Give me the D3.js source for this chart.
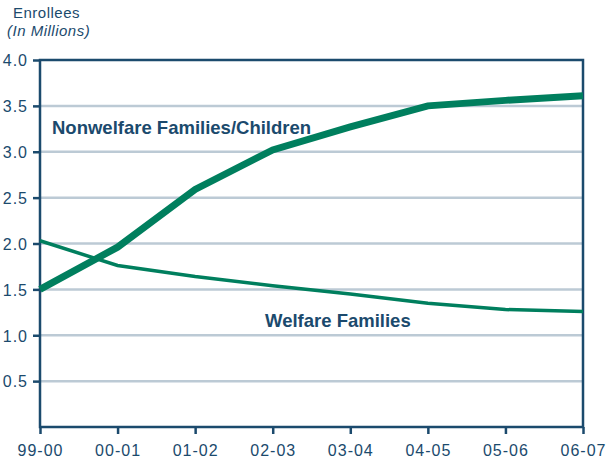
<!DOCTYPE html>
<html>
<head>
<meta charset="utf-8">
<script src="https://cdn.jsdelivr.net/npm/d3@7"></script>
<style>
  html, body { margin: 0; padding: 0; background: #fff; }
  svg { display: block; font-family: "Liberation Sans", Arial, Helvetica, sans-serif; }
</style>
</head>
<body>
<svg id="chart" width="613" height="460"></svg>
<script>
// School years on the x axis
const years = ["99-00", "00-01", "01-02", "02-03", "03-04", "04-05", "05-06", "06-07"];
// Enrollees, in millions
const nonwelfare = [1.50, 1.96, 2.59, 3.02, 3.27, 3.50, 3.56, 3.61];
const welfare    = [2.03, 1.76, 1.64, 1.54, 1.45, 1.35, 1.28, 1.26];
// Value-axis ticks
const yTicks = [0.5, 1.0, 1.5, 2.0, 2.5, 3.0, 3.5, 4.0];

const navy = "#1b4a6d";
const green = "#007f5e";
const grid = "#bccad5";

const svg = d3.select("#chart");
const plotL = 40, plotR = 583, plotT = 60, plotB = 427;

const x = d3.scalePoint().domain(years).range([plotL, plotR]);
const y = d3.scaleLinear().domain([0, 4]).range([plotB, plotT]);

// Horizontal gridlines
svg.append("g").selectAll("line")
  .data(yTicks.filter(d => d < 4))
  .join("line")
  .attr("x1", plotL).attr("x2", plotR)
  .attr("y1", d => y(d)).attr("y2", d => y(d))
  .attr("stroke", grid).attr("stroke-width", 2.5);

// Left axis with ticks and labels
const yAxis = svg.append("g")
  .attr("transform", `translate(${plotL},0)`)
  .call(d3.axisLeft(y).tickValues(yTicks).tickFormat(d3.format(".1f")).tickSize(7).tickPadding(5));
yAxis.select(".domain").remove();
yAxis.selectAll(".tick line").attr("stroke", navy).attr("stroke-width", 2.5);
yAxis.selectAll(".tick text")
  .attr("fill", navy).style("font-size", "16px").style("letter-spacing", "1px")
  .attr("dy", "0.36em");

// Bottom axis with ticks and labels
const xAxis = svg.append("g")
  .attr("transform", `translate(0,${plotB})`)
  .call(d3.axisBottom(x).tickSize(7).tickPadding(8));
xAxis.select(".domain").remove();
xAxis.selectAll(".tick line").attr("stroke", navy).attr("stroke-width", 2.5);
xAxis.selectAll(".tick text")
  .attr("fill", navy).style("font-size", "16px").style("letter-spacing", "1px")
  .attr("dy", "0.9em");

// Plot frame
svg.append("rect")
  .attr("x", plotL).attr("y", plotT)
  .attr("width", plotR - plotL).attr("height", plotB - plotT)
  .attr("fill", "none").attr("stroke", navy).attr("stroke-width", 2.5);

// Series lines
const line = d3.line().x((d, i) => x(years[i])).y(d => y(d));
svg.append("path").datum(welfare)
  .attr("d", line).attr("fill", "none")
  .attr("stroke", green).attr("stroke-width", 3.5);
svg.append("path").datum(nonwelfare)
  .attr("d", line).attr("fill", "none")
  .attr("stroke", green).attr("stroke-width", 7);

// Series labels
svg.append("text").attr("x", 52).attr("y", 134)
  .attr("fill", navy).style("font-size", "18.5px").style("font-weight", "bold")
  .text("Nonwelfare Families/Children");
svg.append("text").attr("x", 265).attr("y", 327)
  .attr("fill", navy).style("font-size", "18.5px").style("font-weight", "bold")
  .text("Welfare Families");

// Axis title
svg.append("text").attr("x", 13).attr("y", 18)
  .attr("fill", navy).style("font-size", "15px").style("letter-spacing", "0.5px")
  .text("Enrollees");
svg.append("text").attr("x", 7).attr("y", 36)
  .attr("fill", navy).style("font-size", "15px").style("font-style", "italic").style("letter-spacing", "0.5px")
  .text("(In Millions)");
</script>
</body>
</html>
